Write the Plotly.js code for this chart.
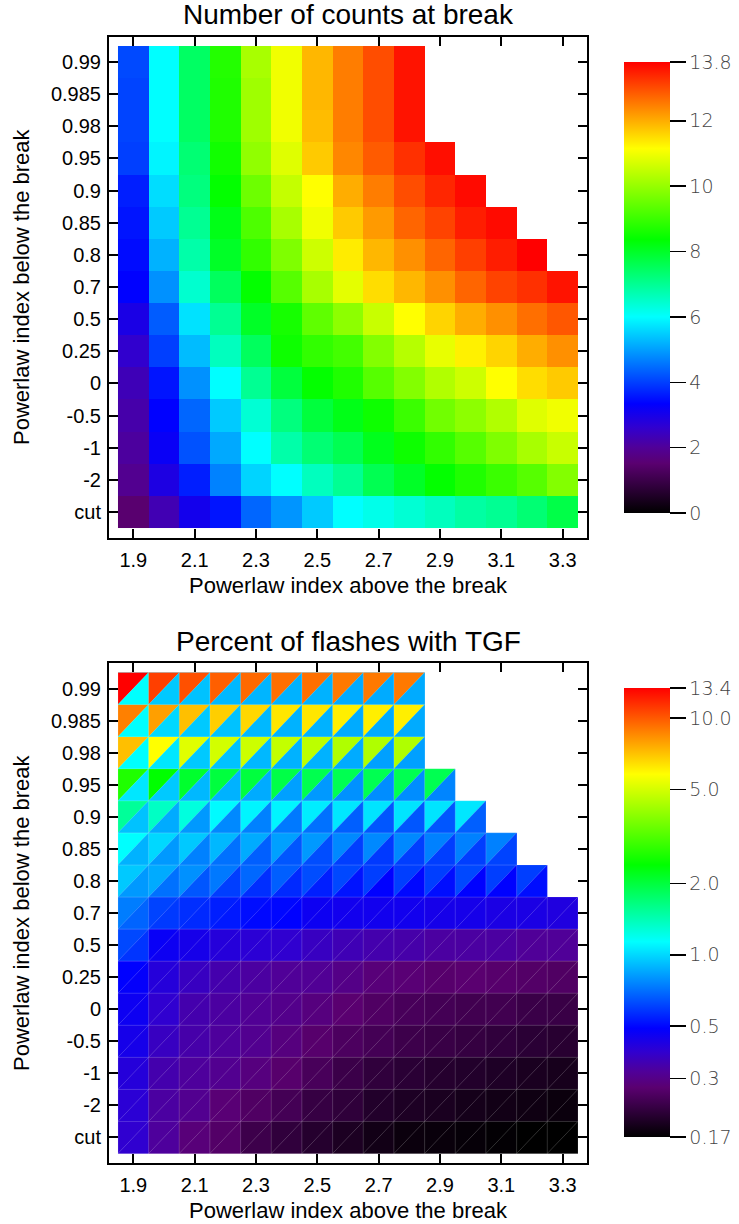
<!DOCTYPE html>
<html><head><meta charset="utf-8">
<script src="https://cdn.plot.ly/plotly-3.0.1.min.js"></script>
<style>html,body{margin:0;padding:0;background:#fff}#chart{width:739px;height:1224px}</style>
</head><body><div id="chart"></div>
<script>
// Powerlaw index above the break (x categories)
const aboveIndex = ['1.9','2.0','2.1','2.2','2.3','2.4','2.5','2.6','2.7','2.8','2.9','3.0','3.1','3.2','3.3'];
// Powerlaw index below the break (y categories, bottom to top)
const belowIndex = ['cut','-2','-1','-0.5','0','0.25','0.5','0.7','0.8','0.85','0.9','0.95','0.98','0.985','0.99'];
const N = null;
// Number of counts at break, rows in belowIndex order
const countsAtBreak = [
  [1.5, 2.3, 3.05, 3.55, 4.4, 4.9, 5.45, 6.0, 6.2, 6.4, 6.6, 6.85, 7.0, 7.3, 7.7],
  [1.9, 2.9, 3.65, 4.7, 5.55, 6.0, 6.6, 7.0, 7.6, 8.0, 8.4, 8.7, 9.0, 9.3, 9.8],
  [2.07, 3.2, 4.2, 5.1, 6.0, 6.8, 7.3, 7.6, 8.1, 8.5, 8.9, 9.3, 9.75, 10.2, 10.55],
  [2.2, 3.35, 4.4, 5.45, 6.4, 7.2, 7.8, 8.15, 8.5, 9.0, 9.6, 9.9, 10.3, 10.8, 11.0],
  [2.35, 3.55, 4.85, 6.0, 7.0, 7.8, 8.4, 8.7, 9.3, 9.8, 10.3, 10.6, 11.15, 11.5, 11.7],
  [2.6, 4.0, 5.3, 6.6, 7.5, 8.5, 8.9, 9.1, 9.8, 10.35, 10.9, 11.3, 11.6, 12.0, 12.3],
  [2.95, 4.3, 5.7, 7.0, 8.0, 8.6, 9.4, 9.9, 10.55, 11.15, 11.6, 12.0, 12.3, 12.65, 12.9],
  [3.35, 4.85, 6.45, 7.5, 8.4, 9.3, 10.2, 10.85, 11.5, 11.9, 12.3, 12.75, 13.1, 13.3, 13.6],
  [3.45, 5.2, 6.8, 8.0, 8.9, 9.75, 10.6, 11.35, 11.9, 12.3, 12.75, 13.15, 13.5, 13.8, N],
  [3.55, 5.45, 7.0, 8.15, 9.2, 10.2, 11.0, 11.7, 12.2, 12.75, 13.1, 13.5, 13.7, N, N],
  [3.65, 5.65, 7.2, 8.4, 9.55, 10.5, 11.15, 12.0, 12.5, 13.0, 13.4, 13.7, N, N, N],
  [4.0, 5.9, 7.3, 8.55, 9.95, 10.8, 11.7, 12.4, 12.85, 13.3, 13.65, N, N, N, N],
  [4.05, 6.0, 7.45, 8.7, 10.1, 11.0, 11.85, 12.5, 13.0, 13.6, N, N, N, N, N],
  [4.05, 6.0, 7.45, 8.7, 10.1, 11.0, 11.9, 12.5, 13.0, 13.6, N, N, N, N, N],
  [4.1, 6.0, 7.45, 8.75, 10.2, 11.0, 11.9, 12.5, 13.0, 13.6, N, N, N, N, N]
];
// Percent of flashes with TGF: upper-left triangle of each cell
const tgfUpper = [
  [0.39, 0.325, 0.285, 0.265, 0.235, 0.22, 0.207, 0.197, 0.187, 0.18, 0.178, 0.176, 0.173, 0.17, 0.17],
  [0.40, 0.33, 0.31, 0.28, 0.26, 0.245, 0.227, 0.218, 0.204, 0.198, 0.195, 0.19, 0.187, 0.184, 0.18],
  [0.41, 0.345, 0.325, 0.31, 0.29, 0.27, 0.25, 0.233, 0.22, 0.213, 0.207, 0.204, 0.20, 0.195, 0.192],
  [0.44, 0.37, 0.34, 0.325, 0.31, 0.29, 0.27, 0.255, 0.245, 0.235, 0.23, 0.225, 0.22, 0.213, 0.21],
  [0.46, 0.39, 0.345, 0.33, 0.317, 0.305, 0.29, 0.275, 0.26, 0.25, 0.245, 0.24, 0.24, 0.232, 0.23],
  [0.49, 0.41, 0.37, 0.345, 0.33, 0.32, 0.317, 0.30, 0.285, 0.28, 0.27, 0.275, 0.27, 0.265, 0.26],
  [0.62, 0.47, 0.44, 0.41, 0.40, 0.39, 0.37, 0.355, 0.345, 0.34, 0.33, 0.33, 0.33, 0.32, 0.32],
  [0.74, 0.61, 0.57, 0.54, 0.51, 0.50, 0.46, 0.45, 0.45, 0.45, 0.44, 0.44, 0.43, 0.43, 0.42],
  [0.95, 0.86, 0.79, 0.73, 0.69, 0.67, 0.63, 0.62, 0.60, 0.60, 0.60, 0.62, 0.60, 0.60, N],
  [1.14, 1.0, 0.95, 0.90, 0.86, 0.83, 0.81, 0.77, 0.77, 0.77, 0.75, 0.75, 0.75, N, N],
  [1.53, 1.35, 1.25, 1.12, 1.1, 1.1, 1.07, 1.05, 1.04, 1.04, 1.04, 1.05, N, N, N],
  [2.67, 2.4, 2.1, 2.0, 2.0, 1.95, 1.9, 1.89, 1.89, 1.89, 1.89, N, N, N, N],
  [7.15, 5.8, 5.2, 4.95, 4.85, 4.7, 4.6, 4.4, 4.4, 4.4, N, N, N, N, N],
  [8.8, 7.95, 7.15, 6.8, 6.6, 6.3, 6.3, 6.1, 6.1, 6.1, N, N, N, N, N],
  [13.4, 10.9, 10.3, 9.8, 9.5, 9.3, 9.3, 9.0, 9.0, 9.0, N, N, N, N, N]
];
// Percent of flashes with TGF: lower-right triangle of each cell
const tgfLower = [
  [0.39, 0.325, 0.285, 0.265, 0.235, 0.22, 0.207, 0.197, 0.187, 0.18, 0.178, 0.176, 0.173, 0.17, 0.17],
  [0.40, 0.33, 0.31, 0.28, 0.26, 0.245, 0.227, 0.218, 0.204, 0.198, 0.195, 0.19, 0.187, 0.184, 0.18],
  [0.41, 0.345, 0.325, 0.31, 0.29, 0.27, 0.25, 0.233, 0.22, 0.213, 0.207, 0.204, 0.20, 0.195, 0.192],
  [0.44, 0.37, 0.34, 0.325, 0.31, 0.29, 0.27, 0.255, 0.245, 0.235, 0.23, 0.225, 0.22, 0.213, 0.21],
  [0.46, 0.39, 0.345, 0.33, 0.317, 0.305, 0.29, 0.275, 0.26, 0.25, 0.245, 0.24, 0.24, 0.232, 0.23],
  [0.48, 0.41, 0.37, 0.345, 0.33, 0.32, 0.317, 0.30, 0.285, 0.28, 0.27, 0.275, 0.27, 0.265, 0.26],
  [0.58, 0.46, 0.44, 0.41, 0.40, 0.39, 0.37, 0.355, 0.345, 0.34, 0.33, 0.33, 0.33, 0.32, 0.32],
  [0.68, 0.59, 0.56, 0.53, 0.50, 0.49, 0.46, 0.45, 0.45, 0.45, 0.44, 0.44, 0.43, 0.43, 0.42],
  [0.81, 0.71, 0.65, 0.60, 0.57, 0.56, 0.54, 0.52, 0.49, 0.50, 0.51, 0.49, 0.49, 0.51, N],
  [0.88, 0.81, 0.75, 0.71, 0.67, 0.65, 0.63, 0.60, 0.59, 0.60, 0.60, 0.60, 0.61, N, N],
  [0.93, 0.86, 0.81, 0.77, 0.75, 0.73, 0.71, 0.67, 0.65, 0.65, 0.65, 0.67, N, N, N],
  [1.05, 0.95, 0.90, 0.88, 0.86, 0.83, 0.81, 0.79, 0.78, 0.78, 0.76, N, N, N, N],
  [1.14, 1.05, 0.95, 0.93, 0.90, 0.88, 0.88, 0.86, 0.83, 0.83, N, N, N, N, N],
  [1.14, 1.0, 0.95, 0.93, 0.90, 0.88, 0.88, 0.86, 0.86, 0.86, N, N, N, N, N],
  [1.14, 0.95, 0.93, 0.90, 0.89, 0.88, 0.88, 0.86, 0.86, 0.86, N, N, N, N, N]
];
const countTicks = [0, 2, 4, 6, 8, 10, 12, 13.8];
const countTickText = ['0', '2', '4', '6', '8', '10', '12', '13.8'];
const tgfTicks = [0.17, 0.3, 0.5, 1, 2, 5, 10, 13.4];
const tgfTickText = ['0.17', '0.3', '0.5', '1.0', '2.0', '5.0', '10.0', '13.4'];
const countRange = [0, 13.8];
const tgfRange = [0.17, 13.4];

const rainbow = [[0,'#000000'],[0.11,'#5a0070'],[0.145,'#500098'],[0.19,'#3000d0'],[0.242,'#0000ff'],[0.435,'#00ffff'],[0.606,'#00ff00'],[0.808,'#ffff00'],[1,'#ff0000']];

function hexRgb(h){return [parseInt(h.slice(1,3),16),parseInt(h.slice(3,5),16),parseInt(h.slice(5,7),16)];}
function colorAt(f){
  f = Math.max(0, Math.min(1, f));
  for (let k = 1; k < rainbow.length; k++) {
    if (f <= rainbow[k][0]) {
      const f0 = rainbow[k-1][0], f1 = rainbow[k][0];
      const t = (f - f0) / (f1 - f0);
      const a = hexRgb(rainbow[k-1][1]), b = hexRgb(rainbow[k][1]);
      return 'rgb(' + a.map((v,i)=>Math.round(v + (b[i]-v)*t)).join(',') + ')';
    }
  }
  return rainbow[rainbow.length-1][1];
}

const W = 739, H = 1224;
const xIdx = aboveIndex.map((_, i) => i);
const yIdx = belowIndex.map((_, j) => j);
const lz0 = Math.log10(tgfRange[0]), lz1 = Math.log10(tgfRange[1]);

const tickFont = {family: 'Liberation Sans, Arial, sans-serif', size: 20, color: '#000'};
const cbFont = {family: 'DejaVu Sans', size: 19, color: '#444', weight: 200};

function cbar(yCenter, lenPx, vals, text) {
  return {x: 624/W, xanchor: 'left', xpad: 0, ypad: 0, y: 1 - yCenter/H, yanchor: 'middle',
    len: lenPx, lenmode: 'pixels', thickness: 46, thicknessmode: 'pixels', outlinewidth: 0,
    ticks: 'outside', ticklen: 16, tickwidth: 1.5, tickcolor: '#000',
    tickvals: vals, ticktext: text, tickfont: cbFont};
}

const traces = [];
traces.push({type: 'heatmap', x: xIdx, y: yIdx, z: countsAtBreak, zmin: countRange[0], zmax: countRange[1],
  colorscale: rainbow, xaxis: 'x', yaxis: 'y', hoverongaps: false,
  colorbar: cbar(287.5, 451, countTicks, countTickText)});

traces.push({type: 'heatmap', x: xIdx, y: yIdx,
  z: tgfLower.map(r => r.map(v => v == null ? null : Math.log10(v))), zmin: lz0, zmax: lz1,
  colorscale: rainbow, xaxis: 'x2', yaxis: 'y2', hoverongaps: false,
  colorbar: cbar(912.5, 449, tgfTicks.map(v => Math.log10(v)), tgfTickText)});

function frac(v){ return (Math.log10(v) - lz0) / (lz1 - lz0); }
for (let j = 0; j < belowIndex.length; j++) {
  for (let i = 0; i < aboveIndex.length; i++) {
    const u = tgfUpper[j][i], l = tgfLower[j][i];
    if (u == null || l == null) continue;
    const x0 = xIdx[i] - 0.5, x1 = xIdx[i] + 0.5, y0 = yIdx[j] - 0.5, y1 = yIdx[j] + 0.5;
    traces.push({type: 'scatter', mode: 'lines', xaxis: 'x2', yaxis: 'y2', fill: 'toself',
      x: [x0, x1, x0, x0], y: [y1, y1, y0, y1], fillcolor: colorAt(frac(u)),
      line: {color: 'rgba(255,255,255,0.22)', width: 0.6}, hoverinfo: 'text',
      text: 'Upper ' + u + '%', showlegend: false});
    traces.push({type: 'scatter', mode: 'lines', xaxis: 'x2', yaxis: 'y2', fill: 'toself',
      x: [x1, x1, x0, x1], y: [y1, y0, y0, y1], fillcolor: colorAt(frac(l)),
      line: {color: 'rgba(255,255,255,0.22)', width: 0.6}, hoverinfo: 'text',
      text: 'Lower ' + l + '%', showlegend: false});
  }
}

const xDom = [109/W, 587/W];
function xAxis(anchor) {
  return {domain: xDom, anchor: anchor, range: [-0.793, 14.793], showgrid: false, zeroline: false,
    showline: true, linewidth: 2, linecolor: '#000', mirror: 'ticks', ticks: 'inside', ticklen: 9,
    tickwidth: 2, tickcolor: '#000', tickvals: xIdx.filter(i => i % 2 === 0),
    ticktext: aboveIndex.filter((_, i) => i % 2 === 0), tickfont: tickFont, ticklabelstandoff: 3};
}
function yAxis(anchor, top, bottom) {
  return {domain: [1 - bottom/H, 1 - top/H], anchor: anchor, range: [-0.796, 14.796], showgrid: false,
    zeroline: false, showline: true, linewidth: 2, linecolor: '#000', mirror: 'ticks', ticks: 'inside',
    ticklen: 9, tickwidth: 2, tickcolor: '#000', tickvals: yIdx, ticktext: belowIndex,
    tickfont: tickFont, ticklabelstandoff: 2};
}

const titleFont = {family: 'Liberation Sans, Arial, sans-serif', size: 28, color: '#000'};
const axTitleFont = {family: 'Liberation Sans, Arial, sans-serif', size: 22, color: '#000'};
const layout = {
  width: W, height: H, margin: {l: 0, r: 0, t: 0, b: 0}, paper_bgcolor: '#fff', plot_bgcolor: '#fff',
  showlegend: false,
  xaxis: xAxis('y'), yaxis: yAxis('x', 36.5, 537.5),
  xaxis2: xAxis('y2'), yaxis2: yAxis('x2', 663, 1163),
  annotations: [
    {text: 'Number of counts at break', xref: 'paper', yref: 'paper', x: 348/W, y: 1 - 15/H, xanchor: 'center', yanchor: 'middle', showarrow: false, font: titleFont},
    {text: 'Percent of flashes with TGF', xref: 'paper', yref: 'paper', x: 348/W, y: 1 - 641/H, xanchor: 'center', yanchor: 'middle', showarrow: false, font: titleFont},
    {text: 'Powerlaw index above the break', xref: 'paper', yref: 'paper', x: 348/W, y: 1 - 585/H, xanchor: 'center', yanchor: 'middle', showarrow: false, font: axTitleFont},
    {text: 'Powerlaw index above the break', xref: 'paper', yref: 'paper', x: 348/W, y: 1 - 1210/H, xanchor: 'center', yanchor: 'middle', showarrow: false, font: axTitleFont},
    {text: 'Powerlaw index below the break', xref: 'paper', yref: 'paper', x: 21/W, y: 1 - 287/H, xanchor: 'center', yanchor: 'middle', textangle: -90, showarrow: false, font: axTitleFont},
    {text: 'Powerlaw index below the break', xref: 'paper', yref: 'paper', x: 21/W, y: 1 - 913/H, xanchor: 'center', yanchor: 'middle', textangle: -90, showarrow: false, font: axTitleFont}
  ]
};
Plotly.newPlot('chart', traces, layout, {displayModeBar: false, staticPlot: true});
</script></body></html>
